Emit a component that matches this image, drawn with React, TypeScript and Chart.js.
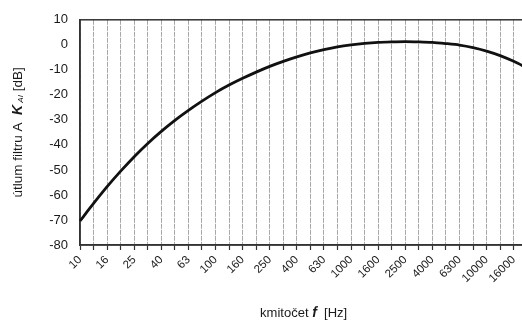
import React, { useEffect, useRef } from "react";
import { Chart, registerables } from "chart.js";

Chart.register(...registerables);

const frequencies: string[] = [
  "10", "12.5", "16", "20", "25", "31.5", "40", "50", "63", "80",
  "100", "125", "160", "200", "250", "315", "400", "500", "630", "800",
  "1000", "1250", "1600", "2000", "2500", "3150", "4000", "5000", "6300", "8000",
  "10000", "12500", "16000", "20000",
];

const attenuation: number[] = [
  -70.4, -63.4, -56.7, -50.5, -44.7, -39.4, -34.6, -30.2, -26.2, -22.5,
  -19.1, -16.1, -13.4, -10.9, -8.6, -6.6, -4.8, -3.2, -1.9, -0.8,
  0, 0.6, 1.0, 1.2, 1.3, 1.2, 1.0, 0.5, -0.1, -1.1,
  -2.5, -4.3, -6.6, -9.3,
];

const yMin = -80;
const yMax = 10;
const yStep = 10;

const FONT = "Arial, 'Liberation Sans', sans-serif";

const titlesPlugin = {
  id: "titlesPlugin",
  beforeDatasetsDraw(chart: any) {
    const { ctx, chartArea } = chart;
    ctx.save();
    ctx.strokeStyle = "#333";
    ctx.lineWidth = 1.5;
    ctx.strokeRect(chartArea.left, chartArea.top, chartArea.right - chartArea.left, chartArea.bottom - chartArea.top);
    ctx.restore();
  },
  afterDraw(chart: any) {
    const { ctx, chartArea } = chart;
    const drawParts = (parts: { text: string; font: string; dy?: number }[], cx: number, cy: number, rotate: boolean) => {
      ctx.save();
      ctx.fillStyle = "#1a1a1a";
      ctx.textBaseline = "alphabetic";
      ctx.textAlign = "left";
      let total = 0;
      for (const p of parts) {
        ctx.font = p.font;
        total += ctx.measureText(p.text).width;
      }
      ctx.translate(cx, cy);
      if (rotate) ctx.rotate(-Math.PI / 2);
      let x = -total / 2;
      for (const p of parts) {
        ctx.font = p.font;
        ctx.fillText(p.text, x, 4.5 + (p.dy || 0));
        x += ctx.measureText(p.text).width;
      }
      ctx.restore();
    };
    drawParts(
      [
        { text: "útlum filtru A  ", font: `13.5px ${FONT}` },
        { text: "K", font: `italic bold 14px ${FONT}` },
        { text: " AI", font: `italic 8px ${FONT}`, dy: 1 },
        { text: " [dB]", font: `13.5px ${FONT}` },
      ],
      17,
      (chartArea.top + chartArea.bottom) / 2,
      true
    );
    drawParts(
      [
        { text: "kmitočet ", font: `13px ${FONT}` },
        { text: "f", font: `italic bold 14px ${FONT}` },
        { text: "  [Hz]", font: `13px ${FONT}` },
      ],
      (chartArea.left + chartArea.right) / 2,
      312.5,
      false
    );
  },
};

export default function App() {
  const canvasRef = useRef<HTMLCanvasElement | null>(null);

  useEffect(() => {
    if (!canvasRef.current) return;
    const chart = new Chart(canvasRef.current, {
      type: "line",
      data: {
        labels: frequencies,
        datasets: [
          {
            data: attenuation,
            borderColor: "#111",
            borderWidth: 2.8,
            pointRadius: 0,
            tension: 0.25,
            fill: false,
          },
        ],
      },
      options: {
        responsive: false,
        animation: false,
        devicePixelRatio: 1,
        layout: { padding: { left: 0, top: 18, right: 8, bottom: 0 } },
        plugins: {
          legend: { display: false },
          tooltip: { enabled: false },
        },
        scales: {
          x: {
            type: "category",
            offset: false,
            grid: {
              display: true,
              color: "#a8a8a8",
              lineWidth: 1,
              drawTicks: true,
              tickLength: 5,
              tickColor: "#333",
              tickWidth: 1.2,
            },
            border: { display: true, color: "#333", width: 1.5, dash: [5, 1] },
            ticks: {
              autoSkip: false,
              maxRotation: 45,
              minRotation: 45,
              padding: 3,
              color: "#1a1a1a",
              font: { family: FONT, size: 11.5 },
              callback: (_v: any, i: number) => (i % 2 === 0 ? frequencies[i] : ""),
            },
            afterFit: (scale: any) => {
              scale.height = 75;
            },
          },
          y: {
            min: yMin,
            max: yMax,
            grid: { display: false, drawTicks: false },
            border: { display: true, color: "#333", width: 1.5 },
            ticks: {
              stepSize: yStep,
              padding: 12,
              color: "#1a1a1a",
              font: { family: FONT, size: 13 },
            },
            afterFit: (scale: any) => {
              scale.width = 80;
            },
          },
        },
      },
      plugins: [titlesPlugin],
    });
    return () => chart.destroy();
  }, []);

  return (
    <div style={{ position: "absolute", left: 0, top: 0, width: 522, height: 320, overflow: "hidden", background: "#fff" }}>
      <canvas ref={canvasRef} width={540} height={320} style={{ width: 540, height: 320, display: "block" }} />
    </div>
  );
}
